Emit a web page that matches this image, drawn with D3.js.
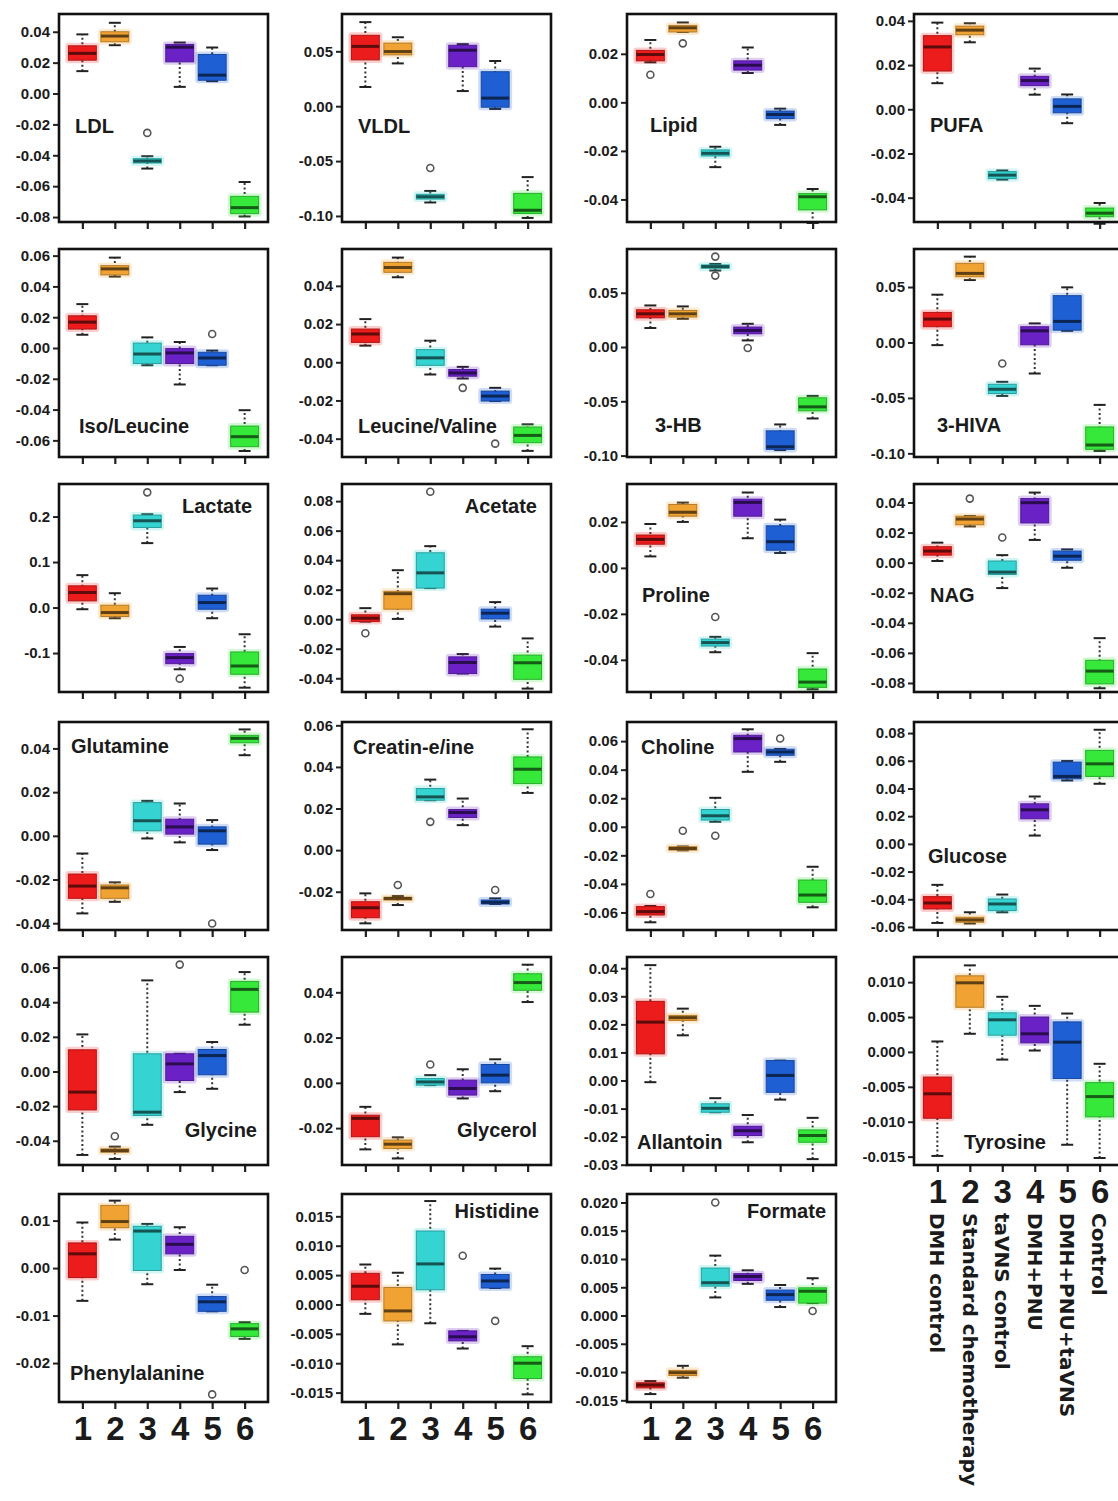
<!DOCTYPE html>
<html>
<head>
<meta charset="utf-8">
<title>Metabolite box plots</title>
<script src="https://d3js.org/d3.v7.min.js"></script>
<style>
  body { margin: 0; background: #fff; }
  svg { display: block; }
  text { font-family: "Liberation Sans", Arial, sans-serif; font-weight: bold; fill: #1b1b1b; }
  .legend text { font-family: "DejaVu Sans", sans-serif; }
</style>
</head>
<body>
<svg width="1118" height="1501"></svg>
<script>
// ---- data ----
const groups = ["1", "2", "3", "4", "5", "6"];
const groupNames = ["DMH control", "Standard chemotherapy", "taVNS control",
                    "DMH+PNU", "DMH+PNU+taVNS", "Control"];
const groupColors = ["#ec1c1c", "#f0a233", "#35d4d2", "#6a22c6", "#1f5fd4", "#35e83a"];

const metabolites = ["LDL", "VLDL", "Lipid", "PUFA",
                     "Iso/Leucine", "Leucine/Valine", "3-HB", "3-HIVA",
                     "Lactate", "Acetate", "Proline", "NAG",
                     "Glutamine", "Creatin-e/ine", "Choline", "Glucose",
                     "Glycine", "Glycerol", "Allantoin", "Tyrosine",
                     "Phenylalanine", "Histidine", "Formate"];

// axis extent of each panel
const yDomains = [
  [-0.0832, 0.0515], [-0.1055, 0.084], [-0.0493, 0.0364], [-0.051, 0.0431],
  [-0.0708, 0.0643], [-0.0496, 0.0593], [-0.1013, 0.0903], [-0.1033, 0.0843],
  [-0.1856, 0.2715], [-0.0493, 0.0916], [-0.054, 0.0365], [-0.086, 0.0523],
  [-0.0431, 0.0521], [-0.0384, 0.0616], [-0.0723, 0.0734], [-0.0622, 0.088],
  [-0.054, 0.0661], [-0.0363, 0.0556], [-0.0301, 0.044], [-0.0162, 0.0136],
  [-0.0282, 0.0156], [-0.0166, 0.0188], [-0.0153, 0.0215]
];

// y tick labels of each panel
const yTickLabels = [
  ["-0.08", "-0.06", "-0.04", "-0.02", "0.00", "0.02", "0.04"],
  ["-0.10", "-0.05", "0.00", "0.05"],
  ["-0.04", "-0.02", "0.00", "0.02"],
  ["-0.04", "-0.02", "0.00", "0.02", "0.04"],
  ["-0.06", "-0.04", "-0.02", "0.00", "0.02", "0.04", "0.06"],
  ["-0.04", "-0.02", "0.00", "0.02", "0.04"],
  ["-0.10", "-0.05", "0.00", "0.05"],
  ["-0.10", "-0.05", "0.00", "0.05"],
  ["-0.1", "0.0", "0.1", "0.2"],
  ["-0.04", "-0.02", "0.00", "0.02", "0.04", "0.06", "0.08"],
  ["-0.04", "-0.02", "0.00", "0.02"],
  ["-0.08", "-0.06", "-0.04", "-0.02", "0.00", "0.02", "0.04"],
  ["-0.04", "-0.02", "0.00", "0.02", "0.04"],
  ["-0.02", "0.00", "0.02", "0.04", "0.06"],
  ["-0.06", "-0.04", "-0.02", "0.00", "0.02", "0.04", "0.06"],
  ["-0.06", "-0.04", "-0.02", "0.00", "0.02", "0.04", "0.06", "0.08"],
  ["-0.04", "-0.02", "0.00", "0.02", "0.04", "0.06"],
  ["-0.02", "0.00", "0.02", "0.04"],
  ["-0.03", "-0.02", "-0.01", "0.00", "0.01", "0.02", "0.03", "0.04"],
  ["-0.015", "-0.010", "-0.005", "0.000", "0.005", "0.010"],
  ["-0.02", "-0.01", "0.00", "0.01"],
  ["-0.015", "-0.010", "-0.005", "0.000", "0.005", "0.010", "0.015"],
  ["-0.015", "-0.010", "-0.005", "0.000", "0.005", "0.010", "0.015", "0.020"]
];

// per group: [whisker low, q1, median, q3, whisker high]
const ldl = [[0.0145, 0.0216, 0.026, 0.0309, 0.0383], [0.0313, 0.0335, 0.0372, 0.040, 0.0458],
  [-0.0486, -0.045, -0.0437, -0.0422, -0.0406], [0.0043, 0.0205, 0.030, 0.0318, 0.033],
  [0.008, 0.0086, 0.0119, 0.0253, 0.0298], [-0.0796, -0.0778, -0.0739, -0.0666, -0.0573]];
const vldl = [[0.0175, 0.0422, 0.0545, 0.0646, 0.0766], [0.039, 0.0468, 0.0498, 0.0575, 0.0628],
  [-0.0877, -0.0846, -0.0825, -0.0803, -0.0772], [0.0138, 0.036, 0.051, 0.0555, 0.0565],
  [-0.0025, -0.0009, 0.0074, 0.0314, 0.0412], [-0.1018, -0.0978, -0.0948, -0.0794, -0.0646]];
const lipid = [[0.0165, 0.0171, 0.0197, 0.0214, 0.0257], [0.029, 0.029, 0.0307, 0.0317, 0.0329],
  [-0.0267, -0.0221, -0.021, -0.0196, -0.0183], [0.0121, 0.0133, 0.0153, 0.0171, 0.0226],
  [-0.0093, -0.0067, -0.005, -0.0036, -0.0026], [-0.0497, -0.0443, -0.0389, -0.0376, -0.0357]];
const pufa = [[0.0118, 0.0173, 0.0282, 0.0333, 0.0392], [0.0303, 0.0337, 0.0358, 0.0376, 0.0389],
  [-0.0318, -0.0314, -0.0298, -0.0282, -0.0277], [0.0066, 0.0107, 0.013, 0.0149, 0.0184],
  [-0.0063, -0.0016, 0.0013, 0.0047, 0.0067], [-0.0518, -0.0486, -0.047, -0.0447, -0.0424]];
const isoLeucine = [[0.0086, 0.0123, 0.0168, 0.0209, 0.0285], [0.0464, 0.0475, 0.0514, 0.0535, 0.0587],
  [-0.0112, -0.0101, -0.0039, 0.0032, 0.0069], [-0.0237, -0.0101, -0.0032, -0.0004, 0.0039],
  [-0.0112, -0.0112, -0.0065, -0.0028, -0.0017], [-0.0669, -0.0641, -0.0576, -0.0507, -0.0404]];
const leucineValine = [[0.0087, 0.0104, 0.0148, 0.0174, 0.0226], [0.0445, 0.0471, 0.0496, 0.0523, 0.0548],
  [-0.0064, -0.0016, 0.0023, 0.0066, 0.0113], [-0.0085, -0.0073, -0.0056, -0.0038, -0.0024],
  [-0.0203, -0.0203, -0.0177, -0.0151, -0.0134], [-0.0464, -0.0421, -0.0383, -0.0339, -0.0325]];
const hb3 = [[0.0175, 0.0269, 0.0306, 0.0343, 0.0383], [0.026, 0.0276, 0.0306, 0.0337, 0.0374],
  [0.0705, 0.0726, 0.0741, 0.0756, 0.0765], [0.0061, 0.0122, 0.0153, 0.0184, 0.0214],
  [-0.0949, -0.0943, -0.0919, -0.0772, -0.0713], [-0.0658, -0.0588, -0.0551, -0.0468, -0.045]];
const hiva3 = [[-0.0024, 0.0142, 0.0211, 0.0271, 0.0431], [0.0563, 0.0593, 0.0623, 0.0714, 0.0774],
  [-0.0482, -0.0461, -0.0422, -0.0377, -0.0355], [-0.028, -0.0021, 0.0105, 0.0142, 0.0172],
  [0.0105, 0.0111, 0.019, 0.0422, 0.0497], [-0.0979, -0.0964, -0.0925, -0.0762, -0.0563]];
const lactate = [[-0.0037, 0.0147, 0.033, 0.0477, 0.0712], [-0.0235, -0.0198, -0.011, 0.0051, 0.0315],
  [0.1416, 0.176, 0.1907, 0.2032, 0.205], [-0.1357, -0.1233, -0.11, -0.1012, -0.0866],
  [-0.0235, -0.0037, 0.011, 0.0271, 0.0418], [-0.1761, -0.1467, -0.1284, -0.0976, -0.0587]];
const acetate = [[-0.0016, -0.0016, 0.0007, 0.003, 0.0075], [0.0002, 0.0068, 0.0173, 0.0189, 0.0332],
  [0.0211, 0.0211, 0.0314, 0.045, 0.0495], [-0.0368, -0.0368, -0.0293, -0.0255, -0.0236],
  [-0.005, 0.0002, 0.0041, 0.0068, 0.0116], [-0.047, -0.0407, -0.0295, -0.0243, -0.013]];
const proline = [[0.005, 0.0103, 0.0124, 0.0143, 0.0191], [0.02, 0.0225, 0.0242, 0.0276, 0.0284],
  [-0.0367, -0.034, -0.0325, -0.031, -0.030], [0.0129, 0.0225, 0.0285, 0.0299, 0.0328],
  [0.0065, 0.0077, 0.0114, 0.0183, 0.021], [-0.0528, -0.052, -0.0497, -0.044, -0.0371]];
const nag = [[0.0011, 0.005, 0.0077, 0.0106, 0.0133], [0.0241, 0.0252, 0.029, 0.0309, 0.031],
  [-0.0169, -0.0079, -0.0063, 0.0011, 0.005], [0.0151, 0.0264, 0.0399, 0.0426, 0.0466],
  [-0.0034, 0.0016, 0.0043, 0.0077, 0.0088], [-0.0835, -0.0806, -0.0721, -0.0649, -0.0502]];
const glutamine = [[-0.0355, -0.0286, -0.023, -0.0175, -0.0081], [-0.0302, -0.0286, -0.0238, -0.0225, -0.0213],
  [-0.0012, 0.0023, 0.0069, 0.0152, 0.016], [-0.003, 0.0008, 0.0041, 0.0076, 0.0148],
  [-0.0065, -0.0038, 0.0023, 0.0041, 0.0072], [0.0369, 0.0426, 0.0446, 0.046, 0.0487]];
const creatine = [[-0.0352, -0.0325, -0.0277, -0.0248, -0.0208], [-0.0264, -0.024, -0.0232, -0.0227, -0.0221],
  [0.024, 0.024, 0.0256, 0.0296, 0.0339], [0.012, 0.0157, 0.0181, 0.0195, 0.0248],
  [-0.0259, -0.0259, -0.0251, -0.024, -0.0232], [0.0275, 0.032, 0.0389, 0.0448, 0.0581]];
const choline = [[-0.0669, -0.0618, -0.0594, -0.0559, -0.0555], [-0.0165, -0.0163, -0.0152, -0.014, -0.0138],
  [0.0035, 0.0047, 0.0077, 0.0121, 0.0203], [0.0385, 0.0524, 0.0618, 0.0641, 0.0683],
  [0.0455, 0.0501, 0.0524, 0.0543, 0.0545], [-0.0564, -0.0529, -0.0478, -0.0373, -0.028]];
const glucose = [[-0.0571, -0.047, -0.0427, -0.0381, -0.0296], [-0.0575, -0.0566, -0.0549, -0.053, -0.0494],
  [-0.0494, -0.0482, -0.0434, -0.0398, -0.0366], [0.006, 0.0181, 0.0246, 0.0289, 0.0342],
  [0.0458, 0.047, 0.0487, 0.059, 0.0598], [0.0434, 0.0487, 0.0578, 0.0675, 0.0824]];
const glycine = [[-0.0482, -0.0222, -0.0119, 0.0125, 0.0214], [-0.0505, -0.0466, -0.0457, -0.0447, -0.0434],
  [-0.0308, -0.0254, -0.0235, 0.0102, 0.0526], [-0.0119, -0.0052, 0.0044, 0.0102, 0.0102],
  [-0.01, -0.0019, 0.0092, 0.0127, 0.017], [0.027, 0.0343, 0.0474, 0.052, 0.0574]];
const glycerol = [[-0.0294, -0.0238, -0.0157, -0.0143, -0.0106], [-0.0334, -0.029, -0.0271, -0.0253, -0.0241],
  [-0.001, -0.001, 0.0004, 0.0019, 0.0034], [-0.0069, -0.0054, -0.0025, 0.0012, 0.006],
  [-0.0037, 0, 0.0034, 0.0081, 0.0104], [0.0357, 0.0409, 0.0443, 0.0482, 0.0522]];
const allantoin = [[-0.0006, 0.0095, 0.0208, 0.0282, 0.0411], [0.0161, 0.0214, 0.0224, 0.0232, 0.0256],
  [-0.0113, -0.0113, -0.0099, -0.0083, -0.0063], [-0.022, -0.0196, -0.0179, -0.0163, -0.0123],
  [-0.0068, -0.0042, 0.0018, 0.0071, 0.0071], [-0.028, -0.022, -0.0196, -0.0176, -0.0133]];
const tyrosine = [[-0.0149, -0.0095, -0.006, -0.0036, 0.0015], [0.0026, 0.0064, 0.0099, 0.0109, 0.0124],
  [-0.0011, 0.0024, 0.0046, 0.0056, 0.0079], [0.0002, 0.0013, 0.0026, 0.005, 0.0066],
  [-0.0133, -0.0038, 0.0014, 0.0043, 0.0055], [-0.0152, -0.0093, -0.0064, -0.0044, -0.0017]];
const phenylalanine = [[-0.0069, -0.002, 0.003, 0.0053, 0.0096], [0.006, 0.0085, 0.0098, 0.0132, 0.0142],
  [-0.0034, -0.0005, 0.0078, 0.0088, 0.0093], [-0.0004, 0.003, 0.005, 0.0067, 0.0086],
  [-0.0091, -0.0091, -0.0071, -0.006, -0.0035], [-0.0149, -0.0144, -0.0128, -0.0117, -0.0114]];
const histidine = [[-0.0016, 0.0008, 0.0031, 0.0053, 0.0068], [-0.0068, -0.0028, -0.0011, 0.0029, 0.0054],
  [-0.0032, 0.0025, 0.0069, 0.0125, 0.0176], [-0.0075, -0.0062, -0.0055, -0.0045, -0.0045],
  [0.0028, 0.0028, 0.004, 0.0051, 0.0061], [-0.0153, -0.0126, -0.01, -0.0089, -0.0071]];
const formate = [[-0.0139, -0.0128, -0.0123, -0.0119, -0.0116], [-0.011, -0.0106, -0.0101, -0.0097, -0.0089],
  [0.0032, 0.0052, 0.0058, 0.0084, 0.0106], [0.0056, 0.0062, 0.0069, 0.0074, 0.008],
  [0.0015, 0.0027, 0.0037, 0.0045, 0.0054], [0.0022, 0.0022, 0.0043, 0.0049, 0.0066]];

const boxStats = [ldl, vldl, lipid, pufa, isoLeucine, leucineValine, hb3, hiva3,
  lactate, acetate, proline, nag, glutamine, creatine, choline, glucose,
  glycine, glycerol, allantoin, tyrosine, phenylalanine, histidine, formate];

// outliers per panel: [group, value]
const outliers = [
  [["3", -0.0255]], [["3", -0.0563]], [["1", 0.0114], ["2", 0.0243]], [],
  [["5", 0.0091]], [["4", -0.0134], ["5", -0.0426]], [["3", 0.0833], ["3", 0.0658], ["4", -0.0009]], [["3", -0.019]],
  [["3", 0.2531], ["4", -0.1563]], [["1", -0.0095], ["3", 0.0864]], [["3", -0.0214]], [["2", 0.0426], ["3", 0.0167]],
  [["5", -0.0401]], [["2", -0.0168], ["3", 0.0136], ["5", -0.0192]], [["1", -0.0471], ["2", -0.0028], ["3", -0.0063], ["5", 0.0618]], [],
  [["2", -0.0374], ["4", 0.0617]], [["3", 0.0081]], [], [],
  [["5", -0.0266], ["6", -0.0004]], [["4", 0.0083], ["5", -0.0028]], [["3", 0.020], ["6", 0.0008]]
];

// ---- layout ----
const colX = [59, 342, 627, 914];
const rowY = [14, 249, 484, 722, 957, 1194];
const panelW = 209, panelH = 208;
// name label placement: [anchor side, inset from that side, baseline from top]
const labelSpots = [
  ["start", 16, 119], ["start", 16, 119], ["start", 23, 118], ["start", 16, 118],
  ["start", 20, 184], ["start", 16, 184], ["start", 28, 183], ["start", 23, 183],
  ["end", 16, 29], ["end", 14, 29], ["start", 15, 118], ["start", 16, 118],
  ["start", 12, 31], ["start", 11, 32], ["start", 14, 32], ["start", 14, 141],
  ["end", 11, 180], ["end", 14, 180], ["start", 10, 192], ["start", 50, 192],
  ["start", 11, 186], ["end", 12, 24], ["end", 10, 24]
];
const labelledX = [19, 20, 21, 22];

const svg = d3.select("svg");

metabolites.forEach((name, i) => {
  const row = Math.floor(i / 4), col = i % 4;
  const g = svg.append("g").attr("transform", `translate(${colX[col]},${rowY[row]})`);

  const x = d3.scalePoint().domain(groups).range([0, panelW]).padding(0.72);
  const y = d3.scaleLinear().domain(yDomains[i]).range([panelH, 0]);
  const bw = x.step() * 0.86;
  const capW = 12;

  // y axis
  const yAxis = g.append("g")
    .call(d3.axisLeft(y).tickValues(yTickLabels[i].map(Number))
      .tickFormat((d, k) => yTickLabels[i][k]).tickSize(6).tickPadding(3));
  yAxis.select(".domain").remove();
  yAxis.selectAll("line").attr("stroke", "#222").attr("stroke-width", 2);
  yAxis.selectAll("text").attr("font-size", 15).attr("fill", "#222");

  // x axis
  const xAxis = g.append("g").attr("transform", `translate(0,${panelH})`)
    .call(d3.axisBottom(x).tickSize(7).tickPadding(8)
      .tickFormat(labelledX.includes(i) ? (d => d) : () => ""));
  xAxis.select(".domain").remove();
  xAxis.selectAll("line").attr("stroke", "#222").attr("stroke-width", 2.2);
  xAxis.selectAll("text").attr("font-size", 33).attr("fill", "#1b1b1b");

  // boxes
  const stats = boxStats[i].map((s, k) => ({ g: groups[k], c: groupColors[k], s }));
  const bx = g.selectAll(".box").data(stats).enter().append("g").attr("class", "box");

  bx.append("line")
    .attr("x1", d => x(d.g)).attr("x2", d => x(d.g))
    .attr("y1", d => y(d.s[0])).attr("y2", d => y(d.s[4]))
    .attr("stroke", "#333").attr("stroke-width", 2).attr("stroke-dasharray", "2,2.5");
  bx.selectAll(".cap").data(d => [d.s[0], d.s[4]].map(v => ({ g: d.g, v })))
    .enter().append("line")
    .attr("x1", d => x(d.g) - capW / 2).attr("x2", d => x(d.g) + capW / 2)
    .attr("y1", d => y(d.v)).attr("y2", d => y(d.v))
    .attr("stroke", "#222").attr("stroke-width", 2);

  // soft halo like the original
  bx.append("rect")
    .attr("x", d => x(d.g) - bw / 2).attr("width", bw)
    .attr("y", d => y(d.s[3])).attr("height", d => Math.max(2, y(d.s[1]) - y(d.s[3])))
    .attr("fill", "none").attr("stroke", d => d.c).attr("stroke-width", 6)
    .attr("stroke-opacity", 0.22).attr("stroke-linejoin", "round");
  bx.append("rect")
    .attr("x", d => x(d.g) - bw / 2).attr("width", bw)
    .attr("y", d => y(d.s[3])).attr("height", d => Math.max(2, y(d.s[1]) - y(d.s[3])))
    .attr("fill", d => d.c).attr("stroke", d => d3.color(d.c).darker(0.8)).attr("stroke-width", 1);
  bx.append("line")
    .attr("x1", d => x(d.g) - bw / 2).attr("x2", d => x(d.g) + bw / 2)
    .attr("y1", d => y(d.s[2])).attr("y2", d => y(d.s[2]))
    .attr("stroke", d => d3.color(d.c).darker(2.6)).attr("stroke-width", 3);

  g.selectAll(".out").data(outliers[i]).enter().append("circle")
    .attr("cx", d => x(d[0])).attr("cy", d => y(d[1])).attr("r", 3.5)
    .attr("fill", "#fff").attr("stroke", "#555").attr("stroke-width", 1.6);

  // frame
  g.append("rect").attr("width", panelW).attr("height", panelH)
    .attr("fill", "none").attr("stroke", "#111").attr("stroke-width", 2.6);

  // metabolite name
  const [side, inset, base] = labelSpots[i];
  g.append("text")
    .attr("x", side === "start" ? inset : panelW - inset).attr("y", base)
    .attr("text-anchor", side).attr("font-size", 20).attr("fill", "#2a2a2a")
    .text(name);
});

// group legend, rotated under the Tyrosine panel
const lx = d3.scalePoint().domain(groups).range([0, panelW]).padding(0.72);
svg.append("g").attr("class", "legend")
  .attr("transform", `translate(${colX[3]},0)`)
  .selectAll("text").data(groupNames).enter().append("text")
  .attr("transform", (d, k) => `translate(${lx(groups[k])},1213) rotate(90)`)
  .attr("dy", "0.36em").attr("font-size", 20).attr("fill", "#1b1b1b")
  .text(d => d);
</script>
</body>
</html>
